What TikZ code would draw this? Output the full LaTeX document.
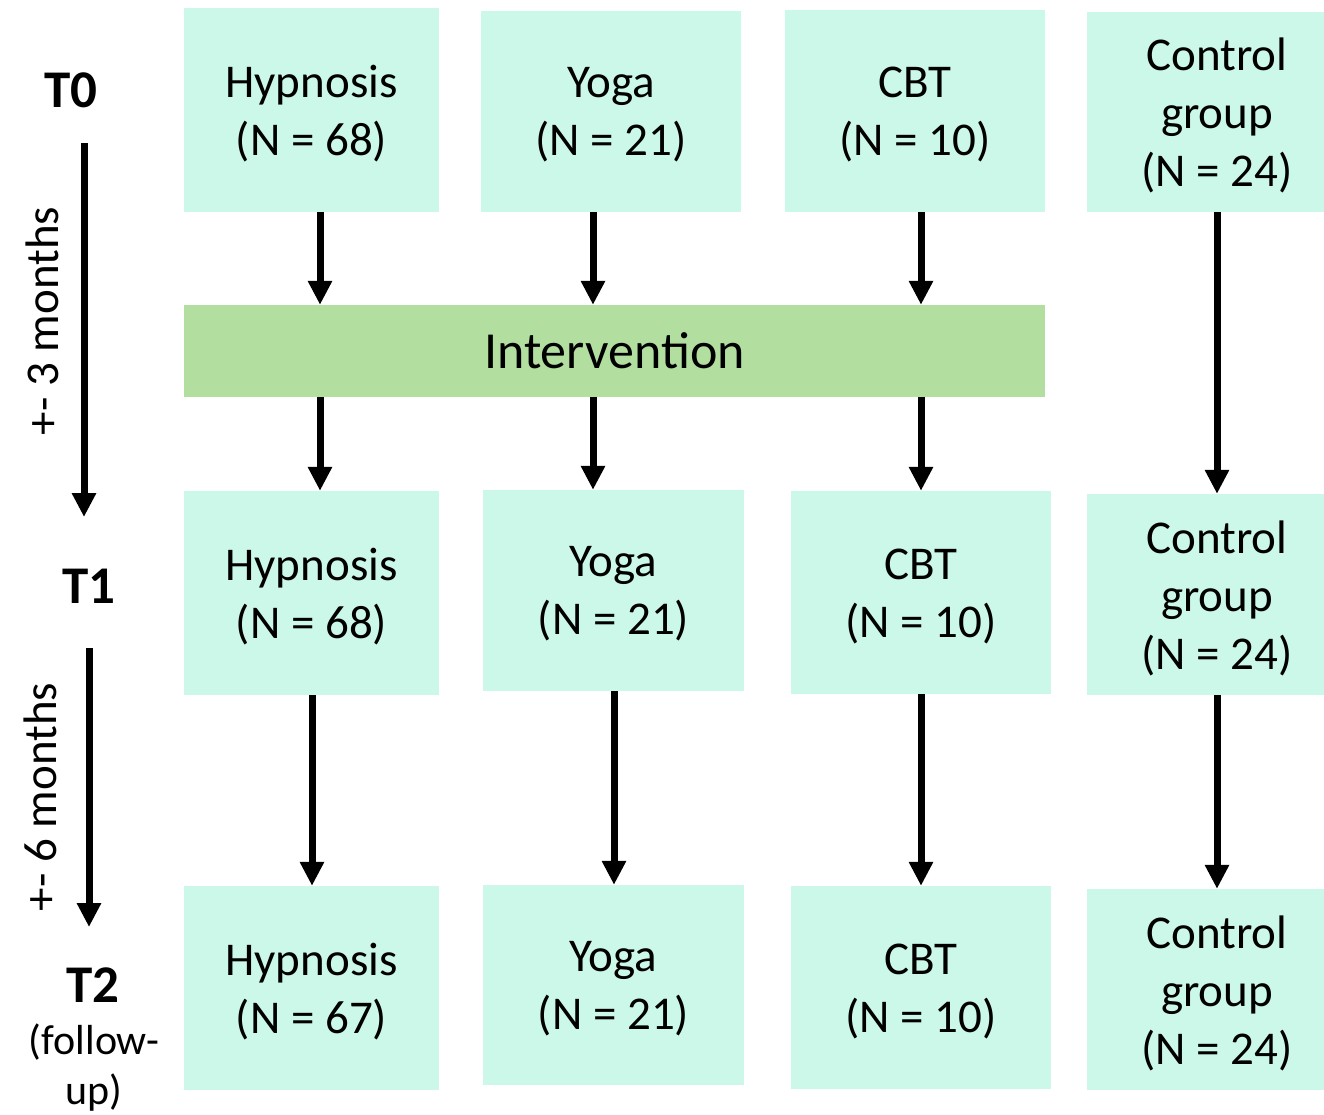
\documentclass[tikz,border=0pt]{standalone}
\usepackage{fontspec}
\setmainfont{Carlito}
\usetikzlibrary{arrows.meta}
\definecolor{boxfill}{RGB}{204,248,234}
\definecolor{ivfill}{RGB}{178,222,160}
\tikzset{
  grp/.style={fill=boxfill, draw=none, inner sep=0pt},
  grptext/.style={inner sep=0pt, align=center,
    font=\fontsize{47}{58}\selectfont},
  ivbox/.style={fill=ivfill, draw=none, inner sep=0pt,
    font=\fontsize{52}{62}\selectfont},
  tlabel/.style={font=\fontsize{53}{60}\selectfont\bfseries, inner sep=0pt},
  span/.style={font=\fontsize{47}{57}\selectfont, rotate=90, inner sep=0pt},
  arr/.style={line width=7pt, -{Triangle[length=24pt,width=23pt]}},
}
% group box: name, centre x, centre y, width, height, text x shift, text
\newcommand\groupbox[7]{%
  \node[grp, minimum width=#4pt, minimum height=#5pt] (#1) at (#2,#3) {};
  \node[grptext, xshift=#6pt, yshift=-3.5pt] (#1-t) at (#1) {#7};
}
\begin{document}
\begin{tikzpicture}[x=1pt, y=-1pt]
\useasboundingbox (0,0) rectangle (1324,1114);

% baseline groups (T0)
\groupbox{h0}{311.5}{110}{255}{204}{0}{Hypnosis\\(N = 68)}
\groupbox{y0}{611}{111.5}{260}{201}{0}{Yoga\\(N = 21)}
\groupbox{c0}{915}{111}{260}{202}{0}{CBT\\(N = 10)}
\groupbox{k0}{1205.5}{112}{237}{200}{11.5}{Control\\group\\(N = 24)}

% intervention bar
\node[ivbox, minimum width=861pt, minimum height=92pt] (iv) at (614.5,351) {Intervention};

% T1 groups
\groupbox{h1}{311.5}{593}{255}{204}{0}{Hypnosis\\(N = 68)}
\groupbox{y1}{613.5}{590.5}{261}{201}{0}{Yoga\\(N = 21)}
\groupbox{c1}{921}{592.5}{260}{203}{0}{CBT\\(N = 10)}
\groupbox{k1}{1205.5}{594.5}{237}{201}{11.5}{Control\\group\\(N = 24)}

% T2 groups
\groupbox{h2}{311.5}{988}{255}{204}{0}{Hypnosis\\(N = 67)}
\groupbox{y2}{613.5}{985}{261}{200}{0}{Yoga\\(N = 21)}
\groupbox{c2}{921}{987.5}{260}{203}{0}{CBT\\(N = 10)}
\groupbox{k2}{1205.5}{989.5}{237}{201}{11.5}{Control\\group\\(N = 24)}

% time-point labels
\node[tlabel] (t0) at (71,90) {T0};
\node[tlabel] (t1) at (89,586) {T1};
\node[tlabel] (t2) at (93,985) {T2};
\node[font=\fontsize{42}{50}\selectfont, align=center, inner sep=0pt] (fu) at (94,1068) {(follow-\\up)};

% time spans
\coordinate (s3a) at (84,143);
\coordinate (s3b) at (84,517);
\coordinate (s6a) at (89,648);
\coordinate (s6b) at (89,927);
\draw[arr] (s3a) -- (s3b);
\draw[arr] (s6a) -- (s6b);
\node[span] (l3) at (42,321) {+- 3 months};
\node[span] (l6) at (40,797) {+- 6 months};

% T0 -> intervention
\draw[arr] (h0.south -| 320,0) -- (iv.north -| 320,0);
\draw[arr] (y0.south -| 593,0) -- (iv.north -| 593,0);
\draw[arr] (c0.south -| 921,0) -- (iv.north -| 921,0);
% intervention -> T1
\draw[arr] (iv.south -| 320,0) -- (h1.north -| 320,0);
\draw[arr] (iv.south -| 593,0) -- (y1.north -| 593,0);
\draw[arr] (iv.south -| 921,0) -- (c1.north -| 921,0);
% control group, no intervention
\draw[arr] (k0.south -| 1217,0) -- (k1.north -| 1217,0);
% T1 -> T2
\draw[arr] (h1.south -| 312,0) -- (h2.north -| 312,0);
\draw[arr] (y1.south -| 614,0) -- (y2.north -| 614,0);
\draw[arr] (c1.south -| 921,0) -- (c2.north -| 921,0);
\draw[arr] (k1.south -| 1217,0) -- (k2.north -| 1217,0);
\end{tikzpicture}
\end{document}
